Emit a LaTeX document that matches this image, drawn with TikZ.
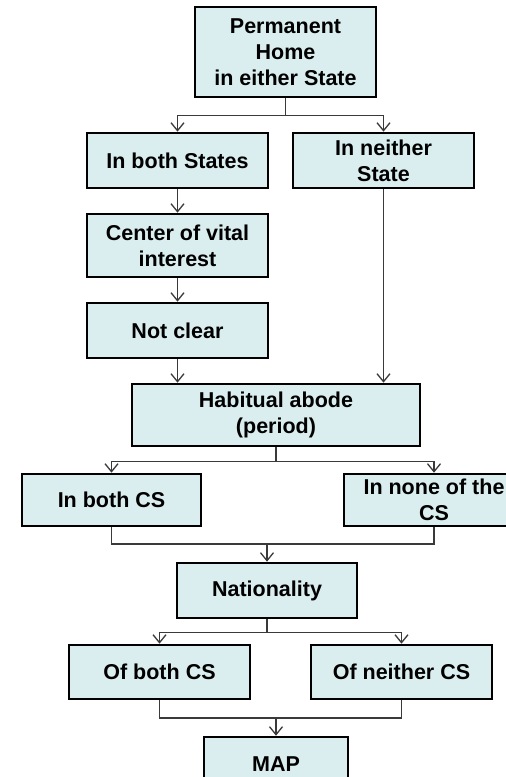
\documentclass[tikz,border=0pt]{standalone}
\usepackage{fontspec}
\setmainfont{Liberation Sans}
\usetikzlibrary{arrows.meta}
\definecolor{boxfill}{HTML}{DAEEF0}
\definecolor{linecol}{HTML}{3A3A3A}
\tikzset{
  box/.style={draw=black, line width=2.6pt, fill=boxfill, rectangle, inner sep=0pt,
    align=center, font=\fontsize{21.5}{26}\selectfont\bfseries},
  line/.style={draw=linecol, line width=1.3pt},
  conn/.style={line, -{Straight Barb[length=8pt,width=13pt,line width=1.3pt]}},
}
\begin{document}
\begin{tikzpicture}[x=1pt,y=-1pt]
\useasboundingbox (0,0) rectangle (506,777);
\clip (0,0) rectangle (506,777);
\node[box, minimum width=181pt, minimum height=90pt] (perm) at (285.5,52) {Permanent\\Home\\in either State};
\node[box, minimum width=181pt, minimum height=55pt] (both) at (177.5,160.5) {In both States};
\node[box, minimum width=181pt, minimum height=55pt] (neither) at (383.5,160.5) {In neither\\State};
\node[box, minimum width=181pt, minimum height=63pt] (cvi) at (177.5,245.5) {Center of vital\\interest};
\node[box, minimum width=181pt, minimum height=55pt] (nc) at (177.5,330.5) {Not clear};
\node[box, minimum width=288pt, minimum height=62pt] (hab) at (276,415) {Habitual abode\\(period)};
\node[box, minimum width=179pt, minimum height=52pt] (bcs) at (111.5,500) {In both CS};
\node[box, minimum width=180pt, minimum height=52pt] (ncs) at (434,500) {In none of the\\CS};
\node[box, minimum width=180pt, minimum height=55pt] (nat) at (267,590.5) {Nationality};
\node[box, minimum width=181pt, minimum height=54pt] (ob) at (159.5,672) {Of both CS};
\node[box, minimum width=181pt, minimum height=54pt] (on) at (401.5,672) {Of neither CS};
\node[box, minimum width=144pt, minimum height=54pt] (map) at (276,764) {MAP};

\draw[line] (perm.south) -- ++(0,17) coordinate (j1);
\draw[conn] (j1) -| (both.north);
\draw[conn] (j1) -| (neither.north);
\draw[conn] (both.south) -- (cvi.north);
\draw[conn] (cvi.south) -- (nc.north);
\draw[conn] (nc.south) -- (nc.south |- hab.north);
\draw[conn] (neither.south) -- (neither.south |- hab.north);
\draw[line] (hab.south) -- ++(0,14) coordinate (j2);
\draw[conn] (j2) -| (bcs.north);
\draw[conn] (j2) -| (ncs.north);
\coordinate (j3) at (267,544);
\draw[line] (bcs.south) |- (j3) -| (ncs.south);
\draw[conn] (j3) -- (nat.north);
\draw[line] (nat.south) -- ++(0,13) coordinate (j4);
\draw[conn] (j4) -| (ob.north);
\draw[conn] (j4) -| (on.north);
\coordinate (j5) at (276,718);
\draw[line] (ob.south) |- (j5) -| (on.south);
\draw[conn] (j5) -- (map.north);
\end{tikzpicture}
\end{document}
